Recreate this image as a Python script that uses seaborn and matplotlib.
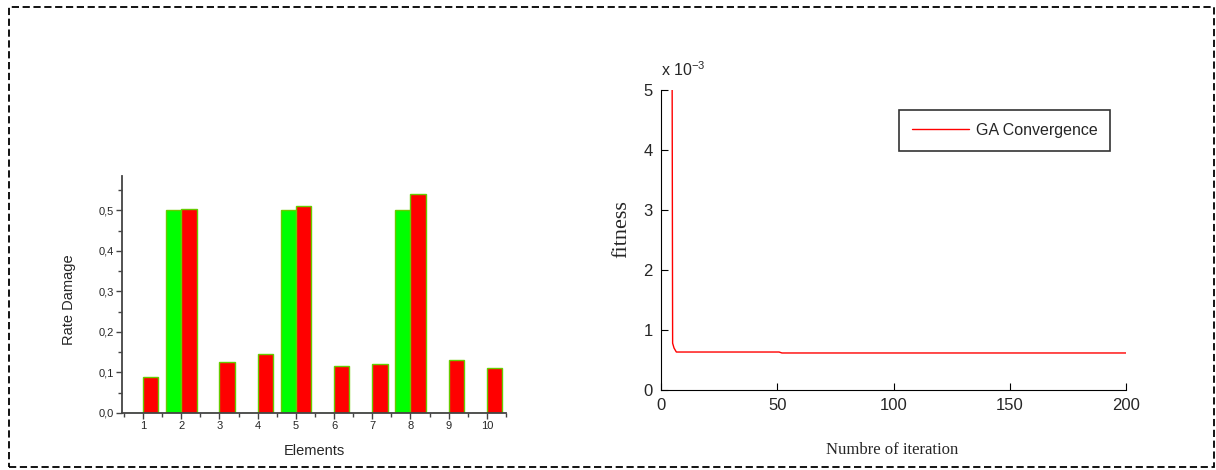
import numpy as np
import pandas as pd
import matplotlib
matplotlib.use("Agg")
import matplotlib.pyplot as plt
from matplotlib.ticker import FuncFormatter, MultipleLocator
from matplotlib.patches import Rectangle
import seaborn as sns

# ---------------- data ----------------
elements = ["1", "2", "3", "4", "5", "6", "7", "8", "9", "10"]
actual_damage = [0.0, 0.50, 0.0, 0.0, 0.50, 0.0, 0.0, 0.50, 0.0, 0.0]
identified_damage = [0.090, 0.503, 0.125, 0.145, 0.512, 0.115, 0.120, 0.541, 0.132, 0.112]

iterations = [4.8, 5.0, 5.6, 6.6, 50.8, 52.0, 200.0]
fitness = [5.0e-3, 0.78e-3, 0.70e-3, 0.633e-3, 0.633e-3, 0.617e-3, 0.617e-3]

y_ticks_fit = [0, 1e-3, 2e-3, 3e-3, 4e-3, 5e-3]
x_ticks_iter = [0, 50, 100, 150, 200]

# ---------------- style ----------------
sns.set_style("ticks")
plt.rcParams["font.family"] = ["Liberation Sans", "DejaVu Sans"]
plt.rcParams["mathtext.default"] = "regular"

fig = plt.figure(figsize=(12.16, 4.70), dpi=100)

# dashed border around the figure
fig.patches.append(Rectangle((9 / 1216, 3 / 470), 1205 / 1216, 460 / 470,
                             transform=fig.transFigure, fill=False,
                             edgecolor="black", linestyle=(0, (4, 2)),
                             linewidth=1.3))

# ---------------- left: bar chart ----------------
ax1 = fig.add_axes([122 / 1216, 57 / 470, 384 / 1216, 237 / 470])
df = pd.DataFrame({
    "Element": elements * 2,
    "Rate": actual_damage + identified_damage,
    "Series": ["Actual"] * len(elements) + ["Identified"] * len(elements),
})
sns.barplot(data=df, x="Element", y="Rate", hue="Series",
            palette={"Actual": "#00ff00", "Identified": "#ff0000"},
            saturation=1, width=0.8, dodge=True, edgecolor="#66cc00",
            linewidth=1.0, legend=False, ax=ax1)
ax1.set_xlim(-0.55, 9.5)
ax1.set_ylim(0, 0.585)
ax1.yaxis.set_major_locator(MultipleLocator(0.1))
ax1.yaxis.set_minor_locator(MultipleLocator(0.05))
ax1.set_xticks(np.arange(-0.5, 10, 1.0), minor=True)
ax1.yaxis.set_major_formatter(FuncFormatter(lambda v, p: f"{v:.1f}".replace(".", ",")))
for s in ["top", "right"]:
    ax1.spines[s].set_visible(False)
for s in ["left", "bottom"]:
    ax1.spines[s].set_color("#444444")
    ax1.spines[s].set_linewidth(1.3)
ax1.tick_params(axis="both", which="major", direction="out", length=4,
                width=1.0, color="#444444", labelsize=8, pad=2)
ax1.tick_params(axis="both", which="minor", direction="out", length=3,
                width=1.0, color="#444444")
ax1.set_xlabel("Elements", fontsize=10.5)
ax1.xaxis.set_label_coords(0.50, -0.13)
ax1.set_ylabel("Rate Damage", fontsize=10.5)
ax1.yaxis.set_label_coords(-0.12, 0.48)

# ---------------- right: convergence line ----------------
ax2 = fig.add_axes([661 / 1216, 80 / 470, 465 / 1216, 300 / 470])
sns.lineplot(x=iterations, y=fitness, color="#ff0000", linewidth=1.0,
             estimator=None, sort=False, label="GA Convergence", ax=ax2)
ax2.set_xlim(0, 200)
ax2.set_ylim(0, 5e-3)
ax2.set_xticks(x_ticks_iter)
ax2.set_yticks(y_ticks_fit)
ax2.yaxis.set_major_formatter(FuncFormatter(lambda v, p: f"{v * 1e3:g}"))
for s in ["top", "right"]:
    ax2.spines[s].set_visible(False)
for s in ["left", "bottom"]:
    ax2.spines[s].set_color("black")
    ax2.spines[s].set_linewidth(0.8)
ax2.tick_params(axis="both", which="major", direction="in", length=5,
                width=0.8, color="black", pad=6, labelsize=12)
ax2.set_xlabel("Numbre of iteration", family=["Liberation Serif", "DejaVu Serif"],
               fontsize=12)
ax2.xaxis.set_label_coords(0.497, -0.175)
ax2.set_ylabel("fitness", family=["Liberation Serif", "DejaVu Serif"],
               fontsize=16)
ax2.yaxis.set_label_coords(-0.065, 0.537)
ax2.text(0.0, 1.035, r"x 10$^{-3}$", transform=ax2.transAxes,
         fontsize=11.5, ha="left", va="bottom")

leg = ax2.legend(loc="upper right", bbox_to_anchor=(0.983, 0.96),
                 frameon=True, fancybox=False, handlelength=3.6,
                 handletextpad=0.4, borderpad=0.8, prop={"size": 11.5})
leg.get_frame().set_edgecolor("black")
leg.get_frame().set_linewidth(1.2)

fig.savefig("out.png", dpi=100)
